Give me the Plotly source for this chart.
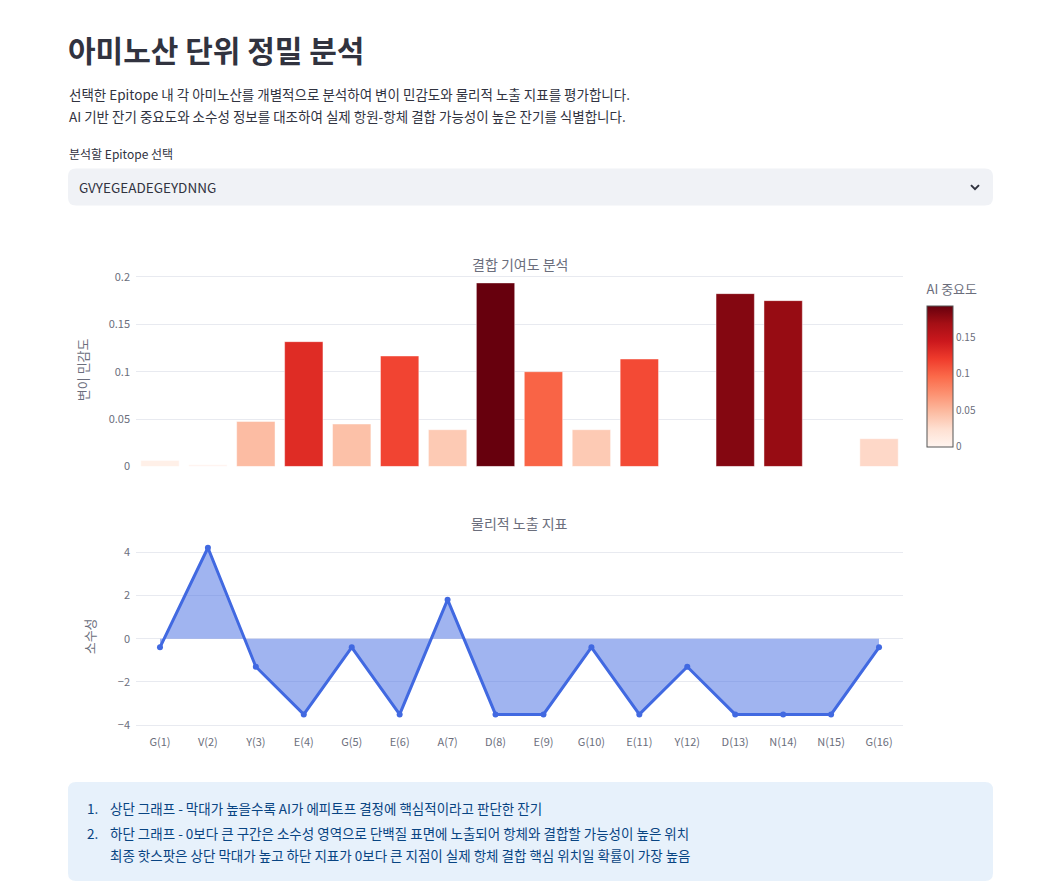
import plotly.graph_objects as go
from plotly.subplots import make_subplots

###data
residue_labels = ["G(1)", "V(2)", "Y(3)", "E(4)", "G(5)", "E(6)", "A(7)", "D(8)",
                  "E(9)", "G(10)", "E(11)", "Y(12)", "D(13)", "N(14)", "N(15)", "G(16)"]
#AI importance (variant sensitivity) per residue
importance = [0.0063, 0.0018, 0.0475, 0.1317, 0.0448, 0.1166, 0.0388, 0.1937,
              0.1000, 0.0388, 0.1134, 0.0, 0.1824, 0.1750, 0.0, 0.0293]
#hydrophobicity per residue
hydrophobicity = [-0.4, 4.2, -1.3, -3.5, -0.4, -3.5, 1.8, -3.5,
                  -3.5, -0.4, -3.5, -1.3, -3.5, -3.5, -3.5, -0.4]
colorbar_ticks = [0, 0.05, 0.1, 0.15]

###page geometry helpers (screen pixels -> paper)
#the page shows up slightly squashed vertically, so undo that here
W, H = 1064, 894
Y_OFF, Y_SCALE = 4.5, 0.986
def px(x):
    return x / W
def py(y):
    return 1 - ((y - Y_OFF) / Y_SCALE) / H
def ph(h):
    return (h / Y_SCALE) / H

def rounded_rect(x0, y0, x1, y1, r):
    #rounded rectangle as svg path in paper coords, built from pixel corners
    pts = [
        "M", px(x0 + r), py(y0),
        "L", px(x1 - r), py(y0),
        "Q", px(x1), py(y0), px(x1), py(y0 + r),
        "L", px(x1), py(y1 - r),
        "Q", px(x1), py(y1), px(x1 - r), py(y1),
        "L", px(x0 + r), py(y1),
        "Q", px(x0), py(y1), px(x0), py(y1 - r),
        "L", px(x0), py(y0 + r),
        "Q", px(x0), py(y0), px(x0 + r), py(y0),
        "Z"]
    return " ".join(str(p) for p in pts)

FONT = "Noto Sans CJK KR, Source Sans Pro, sans-serif"
DARK = "#31333F"
AXIS_TEXT = "#6b6e7c"
GRID = "#e8eaf0"

fig = make_subplots(rows=2, cols=1)

#top: bars coloured by importance
fig.add_trace(go.Bar(
    x=residue_labels, y=importance,
    marker=dict(
        color=importance, colorscale="Reds", cmin=0, cmax=max(importance),
        line=dict(color="rgba(255,255,255,0.45)", width=1),
        colorbar=dict(
            title=dict(text="AI 중요도", side="top", font=dict(size=13, color=AXIS_TEXT)),
            x=px(927), xanchor="left", xpad=0,
            y=py(446), yanchor="bottom", ypad=0,
            len=ph(446 - 281), lenmode="fraction", thickness=26,
            outlinewidth=1, outlinecolor="#555555",
            tickvals=colorbar_ticks, ticktext=["0", "0.05", "0.1", "0.15"],
            ticks="", tickfont=dict(size=10, color=AXIS_TEXT))),
    showlegend=False), row=1, col=1)

#bottom: hydrophobicity line with fill to zero
fig.add_trace(go.Scatter(
    x=residue_labels, y=hydrophobicity, mode="lines+markers",
    fill="tozeroy", fillcolor="rgba(65,105,225,0.5)",
    line=dict(color="royalblue", width=3), marker=dict(size=6, color="royalblue"),
    showlegend=False), row=2, col=1)

axis_style = dict(gridcolor=GRID, zeroline=False, showline=False, ticklabelstandoff=5,
                  tickfont=dict(size=11, color=AXIS_TEXT))
fig.update_xaxes(domain=[px(136), px(903)], range=[-0.5, 15.5], showgrid=False,
                 ticklabelstandoff=2, tickfont=dict(size=11, color=AXIS_TEXT))
fig.update_xaxes(showticklabels=False, row=1, col=1)
fig.update_yaxes(domain=[py(465.7), py(272.5)], range=[0, 0.204],
                 tickvals=[0, 0.05, 0.1, 0.15, 0.2], ticktext=["0", "0.05", "0.1", "0.15", "0.2"],
                 title=dict(text="변이 민감도", font=dict(size=13, color=AXIS_TEXT), standoff=17),
                 **axis_style, row=1, col=1)
fig.update_yaxes(domain=[py(731), py(540)], range=[-4.31, 4.52], dtick=2,
                 title=dict(text="소수성", font=dict(size=13, color=AXIS_TEXT), standoff=19),
                 **axis_style, row=2, col=1)

###page texts
def text(x, y, s, size, color=DARK, bold=False, anchor="left"):
    if bold:
        s = "<b>" + s + "</b>"
    fig.add_annotation(x=px(x), y=py(y), xref="paper", yref="paper", text=s,
                       showarrow=False, xanchor=anchor, yanchor="middle",
                       font=dict(family=FONT, size=size, color=color))

text(66, 48, "아미노산 단위 정밀 분석", 30, bold=True)
text(67, 93, "선택한 Epitope 내 각 아미노산를 개별적으로 분석하여 변이 민감도와 물리적 노출 지표를 평가합니다.", 13.5)
text(67, 115, "AI 기반 잔기 중요도와 소수성 정보를 대조하여 실제 항원-항체 결합 가능성이 높은 잔기를 식별합니다.", 13.5)
text(67, 153, "분석할 Epitope 선택", 12)
text(77, 186, "GVYEGEADEGEYDNNG", 13.5)
text(519.5, 263, "결합 기여도 분석", 14, color=AXIS_TEXT, anchor="center")
text(519.5, 522, "물리적 노출 지표", 14, color=AXIS_TEXT, anchor="center")

INFO = "#084482"
text(85, 807, "1.", 13.5, color=INFO)
text(108, 807, "상단 그래프 - 막대가 높을수록 AI가 에피토프 결정에 핵심적이라고 판단한 잔기", 13.5, color=INFO)
text(85, 832, "2.", 13.5, color=INFO)
text(108, 832, "하단 그래프 - 0보다 큰 구간은 소수성 영역으로 단백질 표면에 노출되어 항체와 결합할 가능성이 높은 위치", 13.5, color=INFO)
text(108, 854, "최종 핫스팟은 상단 막대가 높고 하단 지표가 0보다 큰 지점이 실제 항체 결합 핵심 위치일 확률이 가장 높음", 13.5, color=INFO)

###page shapes: select box, chevron, info box
fig.add_shape(type="path", xref="paper", yref="paper", layer="below",
              path=rounded_rect(68, 168, 993, 205, 8),
              fillcolor="#f0f2f6", line=dict(width=0))
fig.add_shape(type="path", xref="paper", yref="paper",
              path="M %f %f L %f %f L %f %f" % (px(971), py(184.5), px(975), py(188.5), px(979), py(184.5)),
              line=dict(color=DARK, width=2))
fig.add_shape(type="path", xref="paper", yref="paper", layer="below",
              path=rounded_rect(68, 781, 993, 880, 8),
              fillcolor="#e7f1fb", line=dict(width=0))

fig.update_layout(
    width=W, height=H, margin=dict(l=0, r=0, t=0, b=0),
    template="plotly_white", plot_bgcolor="white", paper_bgcolor="white",
    font=dict(family=FONT, color=AXIS_TEXT), bargap=0.2)

fig.write_html("out.html", config={"displayModeBar": False},
               post_script="document.body.style.margin='0';document.body.style.overflow='hidden';")
